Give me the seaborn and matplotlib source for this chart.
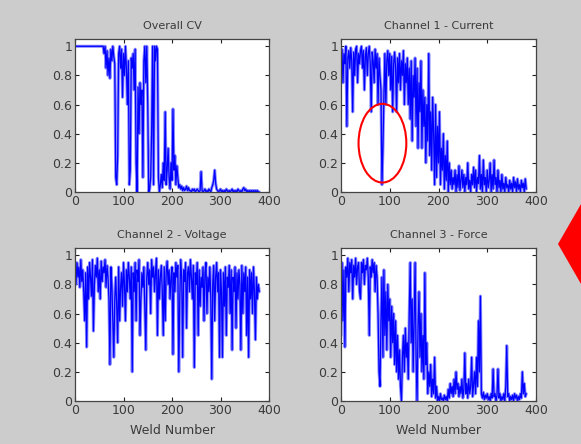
import numpy as np
import pandas as pd
import matplotlib
matplotlib.use("Agg")
import matplotlib.pyplot as plt
import seaborn as sns
from matplotlib.patches import Ellipse, Polygon

# ---------------- data (one value every 2 welds) ----------------
overall_cv = [
    1.0, 1.0, 1.0, 1.0, 1.0, 1.0, 1.0, 1.0, 1.0, 1.0,
    1.0, 1.0, 1.0, 1.0, 1.0, 1.0, 1.0, 1.0, 1.0, 1.0,
    1.0, 1.0, 1.0, 1.0, 1.0, 1.0, 1.0, 1.0, 1.0, 1.0,
    0.95, 1.0, 0.85, 0.97, 0.80, 0.92, 0.78, 0.98, 0.90, 1.0,
    0.93, 0.88, 0.10, 0.05, 0.25, 0.95, 1.0, 0.85, 0.98, 0.65,
    0.95, 0.80, 1.0, 0.85, 0.60, 0.90, 0.05, 0.15, 0.92, 0.85,
    0.95, 0.70, 0.98, 0.20, 0.0, 0.72, 0.40, 0.75, 0.60, 0.70,
    0.10, 0.90, 1.0, 0.75, 1.0, 0.60, 0.0, 0.02, 0.10, 0.40,
    1.0, 0.05, 1.0, 0.90, 1.0, 0.98, 0.10, 0.0, 0.05, 0.12,
    0.03, 0.20, 0.08, 0.55, 0.05, 0.15, 0.30, 0.10, 0.02, 0.20,
    0.08, 0.57, 0.15, 0.25, 0.05, 0.18, 0.10, 0.03, 0.05, 0.02,
    0.04, 0.01, 0.03, 0.01, 0.02, 0.04, 0.01, 0.03, 0.01, 0.01,
    0.0, 0.02, 0.01, 0.02, 0.0, 0.01, 0.02, 0.01, 0.0, 0.01,
    0.14, 0.01, 0.0, 0.01, 0.02, 0.0, 0.01, 0.0, 0.02, 0.01,
    0.0, 0.03, 0.05, 0.08, 0.15, 0.06, 0.02, 0.01, 0.0, 0.01,
    0.02, 0.0, 0.01, 0.0, 0.01, 0.0, 0.02, 0.01, 0.0, 0.01,
    0.0, 0.01, 0.02, 0.0, 0.01, 0.0, 0.01, 0.0, 0.02, 0.01,
    0.0, 0.01, 0.0, 0.02, 0.03, 0.01, 0.02, 0.0, 0.01, 0.0,
    0.01, 0.0, 0.01, 0.0, 0.01, 0.0, 0.01, 0.0, 0.01, 0.0,
    0.0,
]

ch1_current = [
    0.80, 0.98, 0.75, 0.95, 0.88, 1.0, 0.45, 0.92, 0.97, 0.85,
    0.99, 0.90, 0.55, 0.96, 0.80, 0.98, 1.0, 0.75, 0.95, 0.88,
    0.97, 1.0, 0.85, 0.97, 0.70, 0.93, 0.99, 0.80, 0.95, 1.0,
    0.88, 0.55, 0.96, 0.90, 0.75, 0.98, 0.85, 0.95, 0.60, 0.92,
    0.80, 0.70, 0.05, 0.30, 0.65, 0.95, 0.60, 0.90, 0.97, 0.80,
    0.95, 0.70, 0.93, 0.55, 0.88, 0.96, 0.85, 0.55, 0.92, 0.75,
    0.95, 0.70, 0.90, 0.80, 0.97, 0.60, 0.88, 0.75, 0.92, 0.60,
    0.85, 0.50, 0.90, 0.35, 0.80, 0.65, 0.92, 0.45, 0.85, 0.30,
    0.75, 0.55, 0.90, 0.30, 0.70, 0.45, 0.65, 0.20, 0.60, 0.35,
    0.95, 0.25, 0.55, 0.15, 0.65, 0.40, 0.05, 0.60, 0.10, 0.45,
    0.20, 0.55, 0.05, 0.30, 0.15, 0.40, 0.02, 0.25, 0.08, 0.35,
    0.0, 0.20, 0.05, 0.15, 0.02, 0.10, 0.05, 0.15, 0.0, 0.12,
    0.03, 0.18, 0.01, 0.08, 0.15, 0.03, 0.12, 0.0, 0.10, 0.05,
    0.20, 0.02, 0.08, 0.0, 0.12, 0.05, 0.17, 0.03, 0.15, 0.0,
    0.10, 0.06, 0.25, 0.02, 0.12, 0.0, 0.22, 0.05, 0.10, 0.0,
    0.15, 0.03, 0.08, 0.20, 0.0, 0.12, 0.02, 0.22, 0.05, 0.10,
    0.0, 0.15, 0.03, 0.08, 0.0, 0.12, 0.02, 0.06, 0.0, 0.10,
    0.03, 0.05, 0.0, 0.08, 0.02, 0.06, 0.0, 0.10, 0.03, 0.07,
    0.0, 0.09, 0.02, 0.05, 0.0, 0.08, 0.03, 0.06, 0.0, 0.09,
    0.02,
]

ch2_voltage = [
    0.90, 0.80, 0.95, 0.85, 0.92, 0.78, 0.97, 0.82, 0.90, 0.75,
    0.55, 0.88, 0.37, 0.92, 0.70, 0.95, 0.85, 0.72, 0.97, 0.48,
    0.80, 0.93, 0.85, 0.98, 0.75, 0.90, 0.70, 0.96, 0.82, 0.92,
    0.88, 0.97, 0.78, 0.93, 0.85, 0.70, 0.25, 0.92, 0.80, 0.55,
    0.30, 0.70, 0.85, 0.65, 0.40, 0.92, 0.55, 0.78, 0.88, 0.65,
    0.95, 0.80, 0.55, 0.90, 0.75, 0.95, 0.85, 0.70, 0.92, 0.20,
    0.88, 0.75, 0.95, 0.55, 0.90, 0.82, 0.97, 0.45, 0.70, 0.88,
    0.78, 0.92, 0.65, 0.35, 0.85, 0.95, 0.80, 0.90, 0.60, 0.97,
    0.85, 0.92, 0.75, 0.88, 0.98, 0.45, 0.90, 0.70, 0.85, 0.93,
    0.75, 0.45, 0.92, 0.55, 0.88, 0.96, 0.80, 0.90, 0.70, 0.85,
    0.92, 0.32, 0.88, 0.75, 0.95, 0.85, 0.93, 0.20, 0.70, 0.97,
    0.85, 0.30, 0.90, 0.82, 0.95, 0.50, 0.88, 0.92, 0.75, 0.97,
    0.85, 0.70, 0.93, 0.23, 0.88, 0.80, 0.95, 0.45, 0.90, 0.65,
    0.85, 0.78, 0.92, 0.55, 0.88, 0.95, 0.60, 0.85, 0.75, 0.92,
    0.70, 0.15, 0.80, 0.93, 0.55, 0.85, 0.95, 0.75, 0.88, 0.30,
    0.90, 0.75, 0.30, 0.88, 0.65, 0.92, 0.45, 0.85, 0.78, 0.93,
    0.60, 0.90, 0.35, 0.85, 0.75, 0.92, 0.50, 0.88, 0.70, 0.90,
    0.80, 0.35, 0.93, 0.60, 0.88, 0.75, 0.92, 0.45, 0.85, 0.30,
    0.90, 0.70, 0.88, 0.60, 0.92, 0.75, 0.42, 0.85, 0.70, 0.80,
    0.75,
]

ch3_force = [
    0.45, 0.95, 0.55, 0.90, 0.37, 0.92, 0.85, 0.98, 0.75, 0.95,
    0.88, 0.97, 0.70, 0.93, 0.85, 0.98, 0.80, 0.92, 0.95, 0.75,
    0.70, 0.95, 0.88, 0.97, 0.80, 0.93, 0.90, 0.98, 0.85, 0.45,
    0.92, 0.85, 0.97, 0.88, 0.95, 0.75, 0.93, 0.85, 0.60, 0.20,
    0.10, 0.55, 0.85, 0.30, 0.90, 0.45, 0.75, 0.35, 0.80, 0.55,
    0.70, 0.30, 0.65, 0.40, 0.60, 0.25, 0.55, 0.20, 0.45, 0.15,
    0.35, 0.10, 0.0, 0.30, 0.45, 0.20, 0.50, 0.30, 0.40, 0.15,
    0.60, 0.95, 0.40, 0.70, 0.20, 0.55, 0.95, 0.30, 0.0, 0.50,
    0.75, 0.30, 0.60, 0.20, 0.45, 0.15, 0.88, 0.25, 0.40, 0.05,
    0.20, 0.10, 0.25, 0.03, 0.15, 0.05, 0.30, 0.02, 0.10, 0.0,
    0.03, 0.0, 0.05, 0.01, 0.02, 0.0, 0.04, 0.01, 0.03, 0.0,
    0.08, 0.02, 0.12, 0.05, 0.10, 0.03, 0.15, 0.05, 0.20, 0.08,
    0.12, 0.03, 0.10, 0.05, 0.15, 0.02, 0.08, 0.33, 0.05, 0.12,
    0.02, 0.15, 0.05, 0.10, 0.30, 0.03, 0.12, 0.20, 0.05, 0.30,
    0.10, 0.55, 0.20, 0.72, 0.05, 0.02, 0.06, 0.01, 0.04, 0.02,
    0.05, 0.01, 0.03, 0.0, 0.05, 0.02, 0.22, 0.03, 0.05, 0.0,
    0.04, 0.22, 0.02, 0.05, 0.0, 0.03, 0.01, 0.05, 0.0, 0.10,
    0.38, 0.03, 0.05, 0.0, 0.03, 0.01, 0.04, 0.0, 0.05, 0.02,
    0.04, 0.0, 0.03, 0.01, 0.05, 0.02, 0.20, 0.05, 0.12, 0.03,
    0.05,
]

titles = ["Overall CV", "Channel 1 - Current", "Channel 2 - Voltage", "Channel 3 - Force"]
series = [overall_cv, ch1_current, ch2_voltage, ch3_force]
x_ticks = [0, 100, 200, 300, 400]
y_ticks = [0, 0.2, 0.4, 0.6, 0.8, 1]
y_ticklabels = ["0", "0.2", "0.4", "0.6", "0.8", "1"]
xlabel = "Weld Number"

# ---------------- figure ----------------
sns.set_style("ticks")
plt.rcParams["font.family"] = ["DejaVu Sans"]
text_col = "#3a3a3a"

W, H = 581, 444
fig = plt.figure(figsize=(W / 100, H / 100), dpi=100)
fig.patch.set_facecolor("#cccccc")

def rect(l, r, t, b):
    return [l / W, 1 - b / H, (r - l) / W, (b - t) / H]

rects = [rect(75, 269, 39, 192), rect(341, 536, 39, 192),
         rect(75, 269, 248, 401), rect(341, 536, 248, 401)]

axes = []
for i, (title, vals, rc) in enumerate(zip(titles, series, rects)):
    ax = fig.add_axes(rc)
    df = pd.DataFrame({"weld": np.arange(0, 2 * len(vals), 2), "value": vals})
    # soft halo (mimics the blurred rendering) + crisp core line
    sns.lineplot(data=df, x="weld", y="value", ax=ax, color="#8c8cff",
                 linewidth=2.2, estimator=None)
    sns.lineplot(data=df, x="weld", y="value", ax=ax, color="#0000ff",
                 linewidth=0.9, estimator=None)
    ax.set_facecolor("white")
    ax.set_xlim(0, 400)
    ax.set_ylim(0, 1.05)
    ax.set_xticks(x_ticks)
    ax.set_xticklabels([str(t) for t in x_ticks])
    ax.set_yticks(y_ticks)
    ax.set_yticklabels(y_ticklabels)
    ax.tick_params(direction="in", top=True, right=True, length=3, width=0.8,
                   labelsize=9, colors="#222222", labelcolor=text_col, pad=2)
    for s in ax.spines.values():
        s.set_visible(True)
        s.set_linewidth(0.9)
        s.set_color("#444444")
    ax.set_title(title, fontsize=8, color=text_col, pad=7)
    ax.set_xlabel(xlabel if i >= 2 else "", fontsize=9, color=text_col, labelpad=5)
    ax.set_ylabel("")
    axes.append(ax)

# red ellipse on Channel 1 plot
axes[1].add_patch(Ellipse((85, 0.335), 98, 0.54, fill=False, edgecolor="red",
                          linewidth=1.5, zorder=5))

# red diamond at right edge
diamond = Polygon([[558 / W, 1 - 244 / H], [596 / W, 1 - 178 / H],
                   [634 / W, 1 - 244 / H], [596 / W, 1 - 310 / H]],
                  closed=True, transform=fig.transFigure, facecolor="red",
                  edgecolor="none")
fig.patches.append(diamond)

fig.savefig("out.png", dpi=100, facecolor=fig.get_facecolor())
